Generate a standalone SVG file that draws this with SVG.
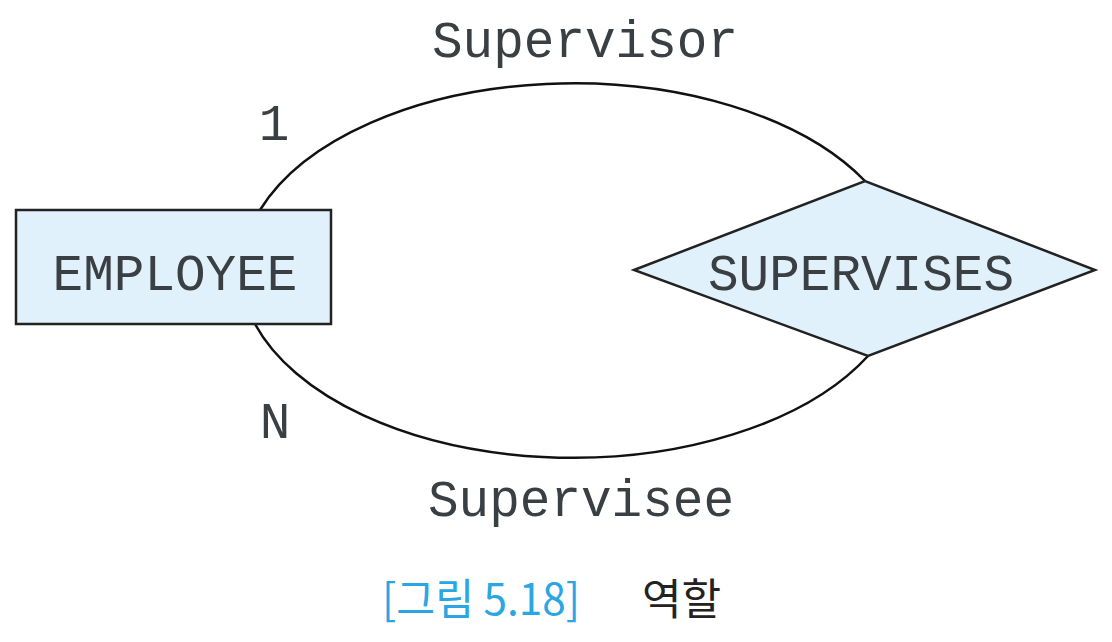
<svg xmlns="http://www.w3.org/2000/svg" width="1112" height="642" viewBox="0 0 1112 642">
<style>
.shape{fill:#e0f1fc;stroke:#222;stroke-width:2.5}
.edge{fill:none;stroke:#111;stroke-width:2.5}
.mono{font-family:"Liberation Mono","Courier New",monospace;font-size:51px;fill:#3a3f44}
.cap{font-family:"Noto Sans CJK KR","Noto Sans",sans-serif;font-size:43px}
</style>
<rect width="1112" height="642" fill="#ffffff"/>
<g id="connectors">
<path class="edge" d="M260,210 A333,190 0 0 1 865,181"/>
<path class="edge" d="M255,324 A333,190 0 0 0 868,356"/>
</g>
<g id="employee">
<rect class="shape" x="16" y="210" width="315" height="114"/>
<text class="mono" x="175" y="290" text-anchor="middle">EMPLOYEE</text>
</g>
<g id="supervises">
<polygon class="shape" points="634,270 865,181 1095,270 868,356"/>
<text class="mono" x="861" y="290" text-anchor="middle">SUPERVISES</text>
</g>
<g id="labels">
<text class="mono" x="585" y="57" text-anchor="middle">Supervisor</text>
<text class="mono" x="581" y="516" text-anchor="middle">Supervisee</text>
<text class="mono" x="274" y="140" text-anchor="middle">1</text>
<text class="mono" x="275" y="438" text-anchor="middle">N</text>
</g>
<g id="caption">
<text class="cap" x="382" y="615" fill="#2aa7e2" textLength="198" lengthAdjust="spacingAndGlyphs">[그림 5.18]</text>
<text class="cap" x="642" y="615" fill="#222">역할</text>
</g>
</svg>
